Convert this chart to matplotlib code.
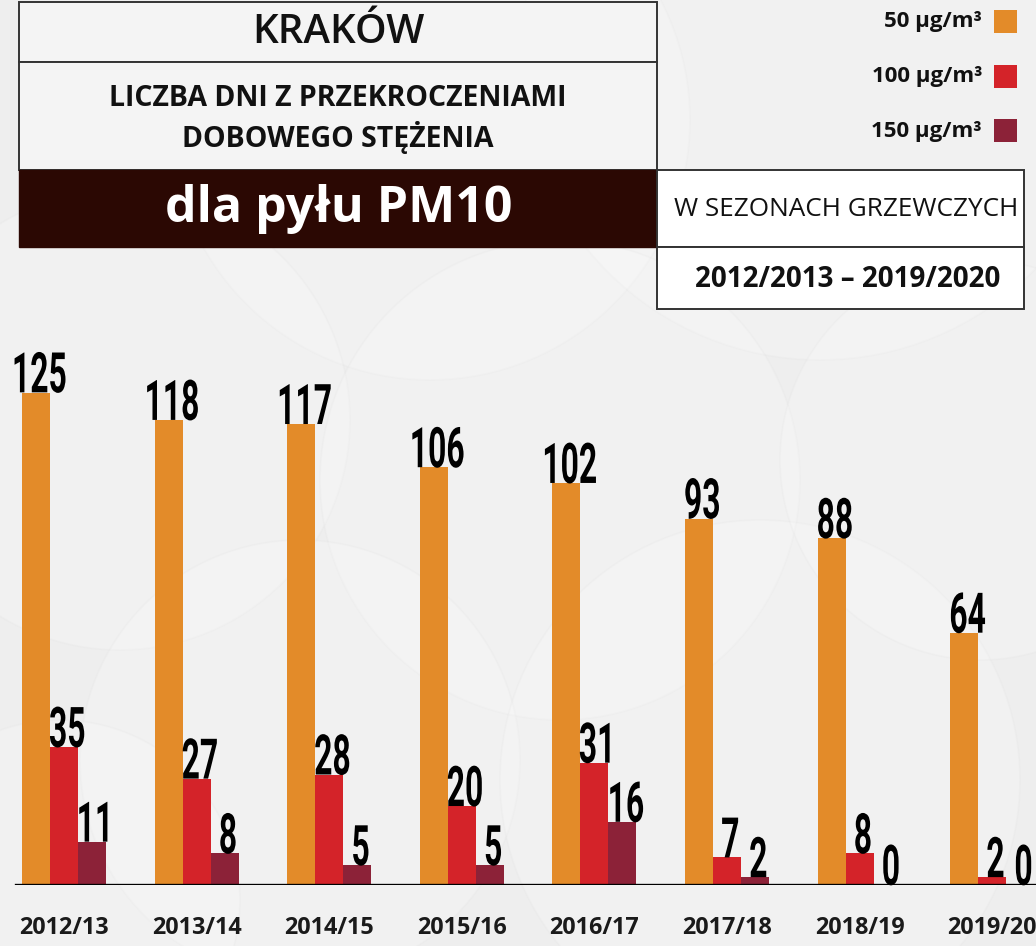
import matplotlib
matplotlib.use("Agg")
import matplotlib.pyplot as plt
import numpy as np
from matplotlib.patches import Rectangle, Circle
from matplotlib.patheffects import AbstractPathEffect
from matplotlib.transforms import Affine2D

# data
seasons = ['2012/13', '2013/14', '2014/15', '2015/16', '2016/17', '2017/18', '2018/19', '2019/20']
days_50 = [125, 118, 117, 106, 102, 93, 88, 64]
days_100 = [35, 27, 28, 20, 31, 7, 8, 2]
days_150 = [11, 8, 5, 5, 16, 2, 0, 0]
legend_labels = ['50 µg/m³', '100 µg/m³', '150 µg/m³']
colors = ['#e38b29', '#d42329', '#8c2238']


class Condensed(AbstractPathEffect):
    """Draw glyphs narrower and taller (scaled around centre / baseline)."""
    def __init__(self, sx, sy):
        super().__init__()
        self.sx, self.sy = sx, sy

    def draw_path(self, renderer, gc, tpath, affine, rgbFace=None):
        bb = tpath.get_extents(affine)
        cx = (bb.x0 + bb.x1) / 2
        tr = affine + (Affine2D().translate(-cx, -bb.y0)
                       .scale(self.sx, self.sy).translate(cx, bb.y0))
        renderer.draw_path(gc, tpath, tr, rgbFace)


plt.rcParams['font.family'] = ['Open Sans', 'DejaVu Sans']

W, H = 1036, 946
fig = plt.figure(figsize=(W / 100, H / 100), dpi=100, facecolor='#eeeeee')

# background / header layer in pixel coordinates
bg = fig.add_axes([0, 0, 1, 1])
bg.set_xlim(0, W)
bg.set_ylim(H, 0)
bg.axis('off')

for (cx, cy, r) in [(430, 120, 260), (820, 60, 300), (120, 420, 230), (560, 480, 240),
                    (300, 760, 220), (760, 780, 260), (980, 460, 200), (60, 900, 180)]:
    bg.add_patch(Circle((cx, cy), r, facecolor='white', alpha=0.18, edgecolor='#e0e0e0', lw=1.2))

edge = '#333333'
bg.add_patch(Rectangle((19, 2), 638, 60, facecolor='#f4f4f4', edgecolor=edge, lw=1.4))
bg.add_patch(Rectangle((19, 62), 638, 108, facecolor='#f4f4f4', edgecolor=edge, lw=1.4))
bg.add_patch(Rectangle((19, 170), 638, 77, facecolor='#2b0803', edgecolor='#2b0803', lw=1))
bg.add_patch(Rectangle((657, 170), 367, 77, facecolor='white', edgecolor=edge, lw=1.4))
bg.add_patch(Rectangle((657, 247), 367, 62, facecolor='white', edgecolor=edge, lw=1.4))

bg.text(338, 33, 'KRAKÓW', ha='center', va='center', fontsize=29,
        fontweight='semibold', color='#111111')
bg.text(338, 98, 'LICZBA DNI Z PRZEKROCZENIAMI', ha='center', va='center',
        fontsize=20.5, fontweight='bold', color='#111111')
bg.text(338, 137, 'DOBOWEGO STĘŻENIA', ha='center', va='center',
        fontsize=20.5, fontweight='bold', color='#111111')
bg.text(339, 209, 'dla pyłu PM10', ha='center', va='center',
        fontsize=36, fontweight='bold', color='white')
bg.text(846, 209, 'W SEZONACH GRZEWCZYCH', ha='center', va='center',
        fontsize=18.8, color='#111111')
bg.text(848, 279, '2012/2013 – 2019/2020', ha='center', va='center',
        fontsize=20, fontweight='bold', color='#111111')

for i, (lab, col) in enumerate(zip(legend_labels, colors)):
    y = 22 + 54.5 * i
    bg.add_patch(Rectangle((994, y - 11.5), 23, 23, facecolor=col, edgecolor='none'))
    bg.text(982, y, lab, ha='right', va='center', fontsize=16, fontweight='bold', color='#111111')

# bar chart
ax = fig.add_axes([0, 61 / H, 1, 140 * 3.94 / H])
ax.patch.set_alpha(0)
x = np.arange(len(seasons))
bw = 0.2115
ax.set_xlim(-64 / 132.6, (W - 64) / 132.6)
ax.set_ylim(0, 140)

for k, vals in enumerate([days_50, days_100, days_150]):
    pos = x + (k - 1) * bw
    ax.bar(pos, vals, width=bw, color=colors[k], zorder=2)
    for xp, v in zip(pos, vals):
        ax.text(xp + 0.025, v, str(v), ha='center', va='baseline', fontsize=28,
                fontweight='bold', family=['Roboto', 'DejaVu Sans'], color='black', zorder=3,
                path_effects=[Condensed(0.82, 1.44)])

ax.axhline(0, xmin=16 / W, xmax=1, color='black', lw=2.4, zorder=4)

for s in ax.spines.values():
    s.set_visible(False)
ax.set_yticks([])
ax.set_xticks(x)
ax.set_xticklabels(seasons, fontsize=16.8, fontweight='bold', color='#1a1a1a')
ax.tick_params(axis='x', length=0, pad=22)

fig.savefig('out.png', dpi=100)
